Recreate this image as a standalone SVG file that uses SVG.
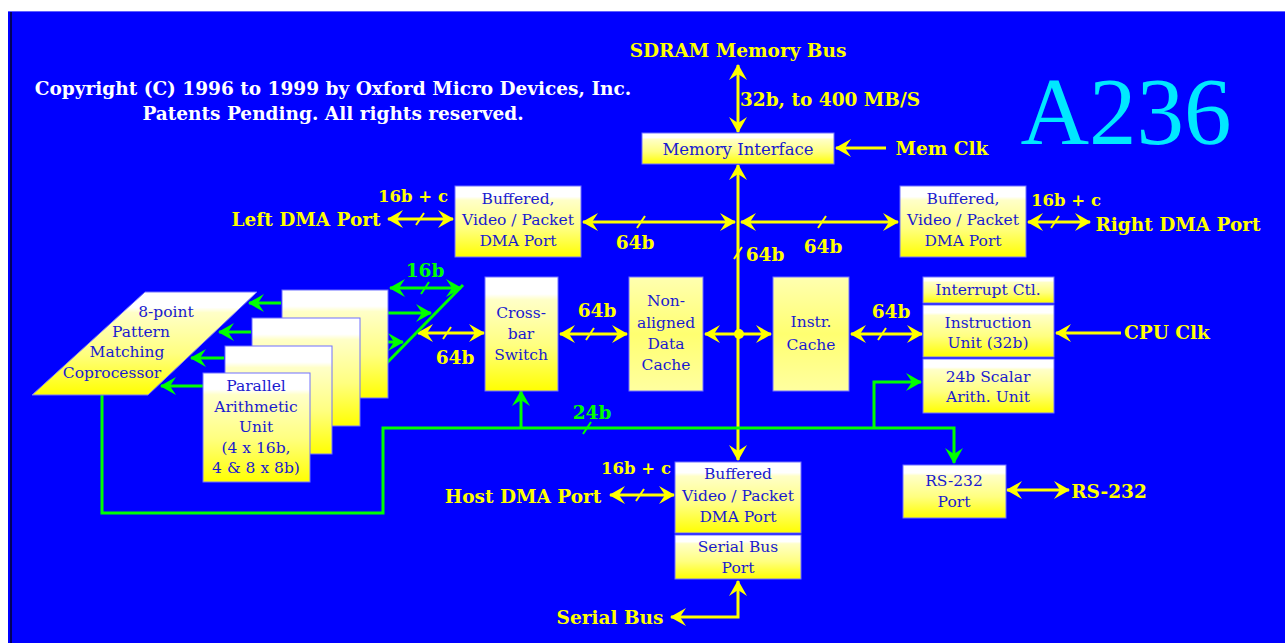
<svg xmlns="http://www.w3.org/2000/svg" width="1285" height="643" viewBox="0 0 1285 643">
<style>
.lbl{font-family:"DejaVu Serif","Liberation Serif",serif;font-weight:bold;font-size:18.5px;fill:#ffff00;text-anchor:middle;dominant-baseline:central}
.sm{font-size:16.5px}
.glbl{font-family:"DejaVu Serif","Liberation Serif",serif;font-weight:bold;font-size:18.5px;fill:#00ff00;text-anchor:middle;dominant-baseline:central}
.bt{font-family:"DejaVu Serif","Liberation Serif",serif;font-size:15.5px;fill:#1a1ad0;text-anchor:middle;dominant-baseline:central}
.cp{font-family:"DejaVu Serif","Liberation Serif",serif;font-weight:bold;font-size:18.5px;fill:#ffffff;text-anchor:middle;dominant-baseline:central}
.box{fill:url(#g);stroke:#7070ff;stroke-width:1}
.pbox{fill:url(#gp);stroke:#7070ff;stroke-width:1}
.yb{fill:none;stroke:#ffff00;stroke-width:3;marker-start:url(#ya);marker-end:url(#ya)}
.ye{fill:none;stroke:#ffff00;stroke-width:3;marker-end:url(#ya)}
.gr{fill:none;stroke:#00ff00;stroke-width:3}
.gb{fill:none;stroke:#00ff00;stroke-width:3;marker-start:url(#ga);marker-end:url(#ga)}
.ge{fill:none;stroke:#00ff00;stroke-width:3;marker-end:url(#ga)}
.ys{stroke:#ffff00;stroke-width:2}
.gs{stroke:#00ff00;stroke-width:2}
</style>
<defs>
<linearGradient id="g" x1="0" y1="0" x2="0" y2="1">
<stop offset="0" stop-color="#ffffff"/>
<stop offset="0.15" stop-color="#ffffff"/>
<stop offset="0.2" stop-color="#ffffc8"/>
<stop offset="0.6" stop-color="#ffff80"/>
<stop offset="1" stop-color="#ffff00"/>
</linearGradient>
<linearGradient id="gp" x1="0" y1="0" x2="0" y2="1">
<stop offset="0" stop-color="#ffffb0"/>
<stop offset="0.5" stop-color="#ffff70"/>
<stop offset="1" stop-color="#ffffa0"/>
</linearGradient>
<marker id="ya" viewBox="0 0 16 18" refX="15" refY="9" markerWidth="16" markerHeight="18" markerUnits="userSpaceOnUse" orient="auto-start-reverse">
<path d="M16,9 L0,0 L6,9 L0,18 Z" fill="#ffff00"/>
</marker>
<marker id="ga" viewBox="0 0 16 18" refX="15" refY="9" markerWidth="16" markerHeight="18" markerUnits="userSpaceOnUse" orient="auto-start-reverse">
<path d="M16,9 L0,0 L6,9 L0,18 Z" fill="#00ff00"/>
</marker>
</defs>

<rect x="0" y="0" width="1285" height="643" fill="#ffffff"/>
<rect x="8" y="11" width="1277" height="632" fill="#0000ff"/>
<line x1="8" y1="11.5" x2="1285" y2="11.5" stroke="#6060ff" stroke-width="1"/>
<line x1="11" y1="12" x2="11" y2="643" stroke="#000060" stroke-width="2"/>

<g id="titles">
<text class="cp" x="333" y="88">Copyright (C) 1996 to 1999 by Oxford Micro Devices, Inc.</text>
<text class="cp" x="333" y="113">Patents Pending. All rights reserved.</text>
<text x="1126" y="112" font-family="Liberation Serif, serif" font-size="95" fill="#00e8ff" text-anchor="middle" dominant-baseline="central">A236</text>
</g>

<g id="connectors">
<line class="yb" x1="738" y1="65" x2="738" y2="132"/>
<line class="ye" x1="886" y1="148" x2="836" y2="148"/>
<line class="yb" x1="738" y1="165" x2="738" y2="460"/>
<line class="ys" x1="734" y1="259" x2="742" y2="247"/>
<line class="yb" x1="388" y1="219" x2="453" y2="219"/>
<line class="ys" x1="416" y1="225" x2="424" y2="213"/>
<line class="yb" x1="583" y1="222" x2="735" y2="222"/>
<line class="ys" x1="637" y1="228" x2="645" y2="216"/>
<line class="yb" x1="741" y1="222" x2="898" y2="222"/>
<line class="ys" x1="818" y1="228" x2="826" y2="216"/>
<line class="yb" x1="1028" y1="222" x2="1090" y2="222"/>
<line class="ys" x1="1051" y1="228" x2="1059" y2="216"/>
<line class="yb" x1="560" y1="334" x2="627" y2="334"/>
<line class="ys" x1="586" y1="340" x2="594" y2="328"/>
<line class="yb" x1="705" y1="334" x2="771" y2="334"/>
<circle cx="739" cy="334" r="5" fill="#ffff00"/>
<line class="yb" x1="851" y1="334" x2="922" y2="334"/>
<line class="ys" x1="878" y1="340" x2="886" y2="328"/>
<line class="ye" x1="1121" y1="333" x2="1056" y2="333"/>
<line class="yb" x1="418" y1="333" x2="484" y2="333"/>
<line class="ys" x1="443" y1="339" x2="451" y2="327"/>
<line class="yb" x1="1007" y1="490" x2="1069" y2="490"/>
<line class="yb" x1="610" y1="495" x2="674" y2="495"/>
<line class="ys" x1="636" y1="501" x2="644" y2="489"/>
<path class="yb" d="M738,581 V617 H671"/>

<path class="ge" d="M102,395 V513 H383 V428 H954 V463"/>
<line class="gs" x1="583" y1="434" x2="591" y2="422"/>
<line class="ge" x1="521" y1="428" x2="521" y2="391"/>
<path class="ge" d="M874,428 V382 H921"/>
<line class="gr" x1="463" y1="285" x2="378" y2="372"/>
<line class="gb" x1="390" y1="288" x2="461" y2="288"/>
<line class="gs" x1="421" y1="294" x2="429" y2="282"/>
<line class="gb" x1="363" y1="313" x2="431" y2="313"/>
<line class="gb" x1="335" y1="342" x2="403" y2="342"/>
<line class="gb" x1="307" y1="368" x2="376" y2="368"/>
<line class="ge" x1="281" y1="303" x2="249" y2="303"/>
<line class="ge" x1="251" y1="332" x2="219" y2="332"/>
<line class="ge" x1="224" y1="358" x2="191" y2="358"/>
<line class="ge" x1="203" y1="386" x2="161" y2="386"/>
</g>

<g id="labels">
<text class="lbl" x="738" y="50">SDRAM Memory Bus</text>
<text class="lbl" x="830" y="99">32b, to 400 MB/S</text>
<text class="lbl" x="942" y="148">Mem Clk</text>
<text class="lbl sm" x="413" y="196">16b + c</text>
<text class="lbl" x="306" y="219">Left DMA Port</text>
<text class="lbl" x="635" y="242">64b</text>
<text class="lbl" x="823" y="246">64b</text>
<text class="lbl" x="765" y="254">64b</text>
<text class="lbl sm" x="1066" y="200">16b + c</text>
<text class="lbl" x="1178" y="224">Right DMA Port</text>
<text class="lbl" x="597" y="310">64b</text>
<text class="lbl" x="891" y="311">64b</text>
<text class="lbl" x="455" y="357">64b</text>
<text class="lbl" x="1167" y="332">CPU Clk</text>
<text class="glbl" x="425" y="270">16b</text>
<text class="glbl" x="592" y="412">24b</text>
<text class="lbl sm" x="636" y="468">16b + c</text>
<text class="lbl" x="523" y="496">Host DMA Port</text>
<text class="lbl" x="1109" y="491">RS-232</text>
<text class="lbl" x="610" y="617">Serial Bus</text>
</g>

<g id="memory-interface">
<rect class="box" x="642" y="133" width="192" height="31"/>
<text class="bt" x="738" y="149" style="font-size:16.5px">Memory Interface</text>
</g>
<g id="left-dma">
<rect class="box" x="455" y="186" width="126" height="71"/>
<text class="bt" x="518" y="199">Buffered,</text>
<text class="bt" x="518" y="220">Video / Packet</text>
<text class="bt" x="518" y="241">DMA Port</text>
</g>
<g id="right-dma">
<rect class="box" x="900" y="186" width="126" height="71"/>
<text class="bt" x="963" y="199">Buffered,</text>
<text class="bt" x="963" y="220">Video / Packet</text>
<text class="bt" x="963" y="241">DMA Port</text>
</g>
<g id="crossbar">
<rect class="box" x="485" y="277" width="73" height="114"/>
<text class="bt" x="521" y="313">Cross-</text>
<text class="bt" x="521" y="334">bar</text>
<text class="bt" x="521" y="355">Switch</text>
</g>
<g id="data-cache">
<rect class="pbox" x="629" y="277" width="74" height="114"/>
<text class="bt" x="666" y="301">Non-</text>
<text class="bt" x="666" y="323">aligned</text>
<text class="bt" x="666" y="344">Data</text>
<text class="bt" x="666" y="365">Cache</text>
</g>
<g id="instr-cache">
<rect class="pbox" x="773" y="277" width="76" height="114"/>
<text class="bt" x="811" y="322">Instr.</text>
<text class="bt" x="811" y="345">Cache</text>
</g>
<g id="interrupt-ctl">
<rect class="box" x="923" y="277" width="131" height="26"/>
<text class="bt" x="988" y="290">Interrupt Ctl.</text>
</g>
<g id="instruction-unit">
<rect class="box" x="923" y="305" width="131" height="52"/>
<text class="bt" x="988" y="323">Instruction</text>
<text class="bt" x="988" y="343">Unit (32b)</text>
</g>
<g id="scalar-unit">
<rect class="box" x="923" y="359" width="131" height="54"/>
<text class="bt" x="988" y="377">24b Scalar</text>
<text class="bt" x="988" y="397">Arith. Unit</text>
</g>
<g id="pattern-coprocessor">
<polygon class="box" points="145,292 257,292 148,395 32,395"/>
<text class="bt" x="166" y="312">8-point</text>
<text class="bt" x="141" y="332">Pattern</text>
<text class="bt" x="127" y="352">Matching</text>
<text class="bt" x="112" y="373">Coprocessor</text>
</g>
<g id="pau-stack-3">
<rect class="box" x="282" y="290" width="106" height="108"/>
</g>
<g id="pau-stack-2">
<rect class="box" x="252" y="318" width="108" height="108"/>
</g>
<g id="pau-stack-1">
<rect class="box" x="225" y="346" width="107" height="108"/>
</g>
<g id="parallel-arithmetic-unit">
<rect class="box" x="203" y="373" width="107" height="109"/>
<text class="bt" x="256" y="386">Parallel</text>
<text class="bt" x="256" y="407">Arithmetic</text>
<text class="bt" x="256" y="427">Unit</text>
<text class="bt" x="256" y="448">(4 x 16b,</text>
<text class="bt" x="256" y="468">4 &amp; 8 x 8b)</text>
</g>
<g id="rs232-port">
<rect class="box" x="903" y="465" width="103" height="53"/>
<text class="bt" x="954" y="481">RS-232</text>
<text class="bt" x="954" y="502">Port</text>
</g>
<g id="host-dma">
<rect class="box" x="675" y="462" width="126" height="71"/>
<text class="bt" x="738" y="474">Buffered</text>
<text class="bt" x="738" y="496">Video / Packet</text>
<text class="bt" x="738" y="517">DMA Port</text>
</g>
<g id="serial-bus-port">
<rect class="box" x="675" y="535" width="126" height="44"/>
<text class="bt" x="738" y="547">Serial Bus</text>
<text class="bt" x="738" y="568">Port</text>
</g>
</svg>
